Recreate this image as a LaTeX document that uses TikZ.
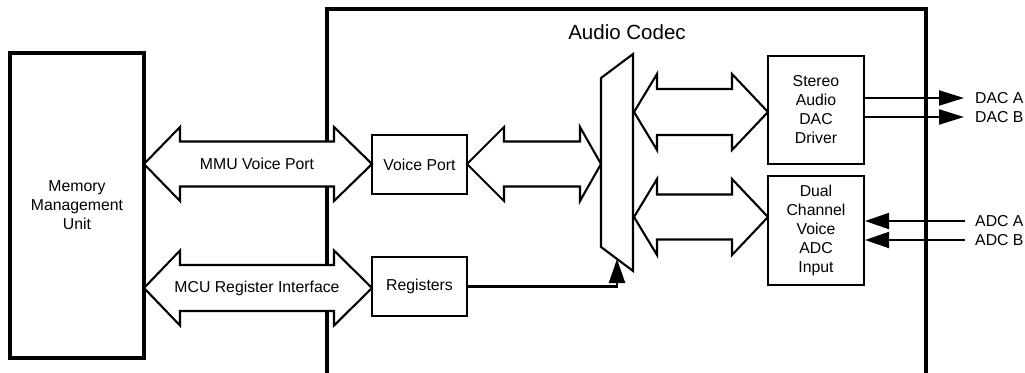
\documentclass[tikz,border=0pt]{standalone}
\usepackage{fontspec}
\setmainfont{Liberation Sans}
\usetikzlibrary{arrows.meta}
\newcommand{\dblarrow}[7]{% left tip, left head back, right head back, right tip, y centre, head half, shaft half
  \draw[fat] (#1,#5) -- (#2,#5-#6) -- (#2,#5-#7) -- (#3,#5-#7) -- (#3,#5-#6) -- (#4,#5)
    -- (#3,#5+#6) -- (#3,#5+#7) -- (#2,#5+#7) -- (#2,#5+#6) -- cycle;}
\begin{document}
\begin{tikzpicture}[x=1pt,y=-1pt,
  txt/.style={font=\fontsize{15.8}{19}\selectfont},
  blk/.style={draw,line width=2.1pt,inner sep=0pt,align=center,txt},
  bigblk/.style={blk,line width=3.2pt},
  lbl/.style={inner sep=0pt,txt},
  fat/.style={draw,line width=2.1pt,line join=miter,fill=white},
  sig/.style={line width=2.1pt},
  tipA/.style={-{Triangle[length=25pt,width=15pt]}},
  tipB/.style={-{Triangle[length=24pt,width=16pt]}}]
\useasboundingbox (0,0) rectangle (1025,372);
% Audio codec frame (bottom cut by page)
\draw[line width=3.2pt] (327,385) -- (327,9) -- (926,9) -- (926,385);
\node[inner sep=0pt,anchor=base,font=\fontsize{20.5}{24}\selectfont] (title) at (627,39) {Audio Codec};
% blocks
\node[bigblk,minimum width=134pt,minimum height=305pt] (mmu) at (77,205.5) {Memory\\Management\\Unit};
\node[blk,minimum width=95pt,minimum height=59pt] (vp) at (419.5,164.5) {Voice Port};
\node[blk,minimum width=95pt,minimum height=59pt] (reg) at (419.5,286.5) {Registers};
\node[blk,minimum width=96pt,minimum height=108pt] (dac) at (816,110) {Stereo\\Audio\\DAC\\Driver};
\node[blk,minimum width=96pt,minimum height=109pt] (adc) at (816,230.5) {Dual\\Channel\\Voice\\ADC\\Input};
% multiplexer
\draw[line width=2.1pt,line join=miter] (601,78) -- (633,54) -- (633,271) -- (601,247) -- cycle;
\coordinate (muxb) at (617,259);
% wide double arrows
\dblarrow{144}{180}{334}{372}{164}{37}{22.5}
\node[lbl] (mmuvp) at (257,164) {MMU Voice Port};
\dblarrow{144}{180}{334}{372}{288}{37.5}{23}
\node[lbl] (mcuri) at (257,288) {MCU Register Interface};
\dblarrow{467}{504}{580}{601}{164}{37}{22.5}
\dblarrow{634}{657}{732}{768}{112}{38}{23}
\dblarrow{634}{657}{732}{768}{217}{38}{22.5}
% register control line
\draw[sig,tipB] (reg.east) -| (muxb);
% analog I/O
\node[lbl,anchor=west] (dacA) at (975,98) {DAC A};
\node[lbl,anchor=west] (dacB) at (975,117) {DAC B};
\node[lbl,anchor=west] (adcA) at (975,221) {ADC A};
\node[lbl,anchor=west] (adcB) at (975,240) {ADC B};
\draw[sig,tipA] (dac.east |- dacA.west) -- ([xshift=-11pt]dacA.west);
\draw[sig,tipA] (dac.east |- dacB.west) -- ([xshift=-11pt]dacB.west);
\draw[sig,tipB] ([xshift=-10pt]adcA.west) -- (adc.east |- adcA.west);
\draw[sig,tipB] ([xshift=-10pt]adcB.west) -- (adc.east |- adcB.west);
\end{tikzpicture}
\end{document}
